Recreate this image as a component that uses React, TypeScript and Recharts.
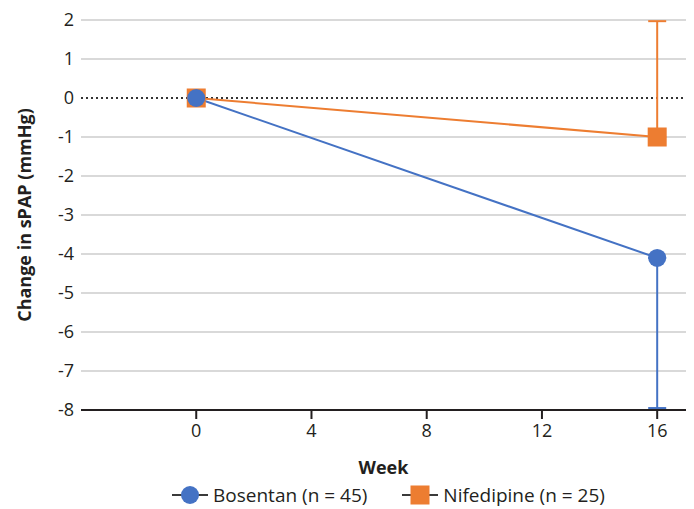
import {
  ComposedChart,
  Line,
  XAxis,
  YAxis,
  CartesianGrid,
  ReferenceLine,
  ErrorBar,
  Legend,
  Label,
} from "recharts";

const weeks = [0, 16];
const bosentan = [-0.0, -4.1];
const bosentanErrDown = [0, 3.85];
const nifedipine = [0, -1.0];
const nifedipineErrUp = [0, 2.97];

const xTicks = [0, 4, 8, 12, 16];
const yTicks = [-8, -7, -6, -5, -4, -3, -2, -1, 0, 1, 2];
const gridValues = [2, 1, -1, -2, -3, -4, -5, -6, -7];

const BLUE = "#4472C4";
const ORANGE = "#ED7D31";
const INK = "#231f20";
const FONT = "'Open Sans', Lato, sans-serif";

const data = weeks.map((w, i) => ({
  week: w,
  bos: bosentan[i],
  bosErr: [bosentanErrDown[i], 0],
  nif: nifedipine[i],
  nifErr: [0, nifedipineErrUp[i]],
}));

const SquareDot = (p: any) => {
  if (p.cx == null || p.cy == null) return null;
  return <rect key={`sq-${p.index}`} x={p.cx - 9.5} y={p.cy - 9.5} width={19} height={19} fill={ORANGE} />;
};

const CircleDot = (p: any) => {
  if (p.cx == null || p.cy == null) return null;
  return <circle key={`c-${p.index}`} cx={p.cx} cy={p.cy} r={9} fill={BLUE} />;
};

function LegendBox() {
  const item = (marker: React.ReactNode, text: string) => (
    <div style={{ display: "flex", alignItems: "center", margin: "0 17px" }}>
      <svg width={38} height={20}>
        <line x1={1} y1={10} x2={37} y2={10} stroke="#3a3a3a" strokeWidth={2} />
        {marker}
      </svg>
      <span style={{ marginLeft: 4, fontSize: 19, color: INK, fontFamily: FONT }}>{text}</span>
    </div>
  );
  return (
    <div style={{ display: "flex", justifyContent: "center", alignItems: "center", height: 29 }}>
      {item(<circle cx={19} cy={10} r={9} fill={BLUE} />, "Bosentan (n = 45)")}
      {item(<rect x={9.5} y={0.5} width={19} height={19} fill={ORANGE} />, "Nifedipine (n = 25)")}
    </div>
  );
}

export default function App() {
  return (
    <div style={{ position: "absolute", left: 0, top: 0, background: "#fff" }}>
      <ComposedChart
        width={694}
        height={509}
        data={data}
        margin={{ top: 20, right: 8, bottom: 0, left: 0 }}
        style={{ fontFamily: FONT }}
      >
        <CartesianGrid
          vertical={false}
          horizontalValues={gridValues}
          stroke="#d9d9d9"
          strokeWidth={2}
        />
        <XAxis
          dataKey="week"
          type="number"
          domain={[-4, 17]}
          ticks={xTicks}
          height={70}
          tickSize={9}
          tickMargin={5}
          axisLine={{ stroke: INK, strokeWidth: 2 }}
          tickLine={{ stroke: INK, strokeWidth: 2 }}
          tick={{ fill: INK, fontSize: 18 }}
        >
          <Label
            value="Week"
            position="insideBottom"
            offset={6}
            style={{ fill: INK, fontSize: 18, fontWeight: 700 }}
          />
        </XAxis>
        <YAxis
          type="number"
          domain={[-8, 2]}
          ticks={yTicks}
          width={81}
          axisLine={false}
          tickLine={false}
          tickMargin={1}
          tick={{ fill: INK, fontSize: 18 }}
        >
          <Label
            value="Change in sPAP (mmHg)"
            angle={-90}
            position="insideLeft"
            offset={25}
            style={{ fill: INK, fontSize: 18, fontWeight: 700, textAnchor: "middle" }}
          />
        </YAxis>
        <ReferenceLine y={0} stroke="#333" strokeWidth={2} strokeDasharray="2 3" />
        <Legend
          verticalAlign="bottom"
          height={29}
          wrapperStyle={{ left: 90, width: 596 }}
          content={() => <LegendBox />}
        />
        <Line
          dataKey="nif"
          stroke={ORANGE}
          strokeWidth={2}
          dot={SquareDot}
          activeDot={false}
          isAnimationActive={false}
        >
          <ErrorBar dataKey="nifErr" direction="y" width={9} stroke={ORANGE} strokeWidth={2} />
        </Line>
        <Line
          dataKey="bos"
          stroke={BLUE}
          strokeWidth={2}
          dot={CircleDot}
          activeDot={false}
          isAnimationActive={false}
        >
          <ErrorBar dataKey="bosErr" direction="y" width={9} stroke={BLUE} strokeWidth={2} />
        </Line>
      </ComposedChart>
    </div>
  );
}
